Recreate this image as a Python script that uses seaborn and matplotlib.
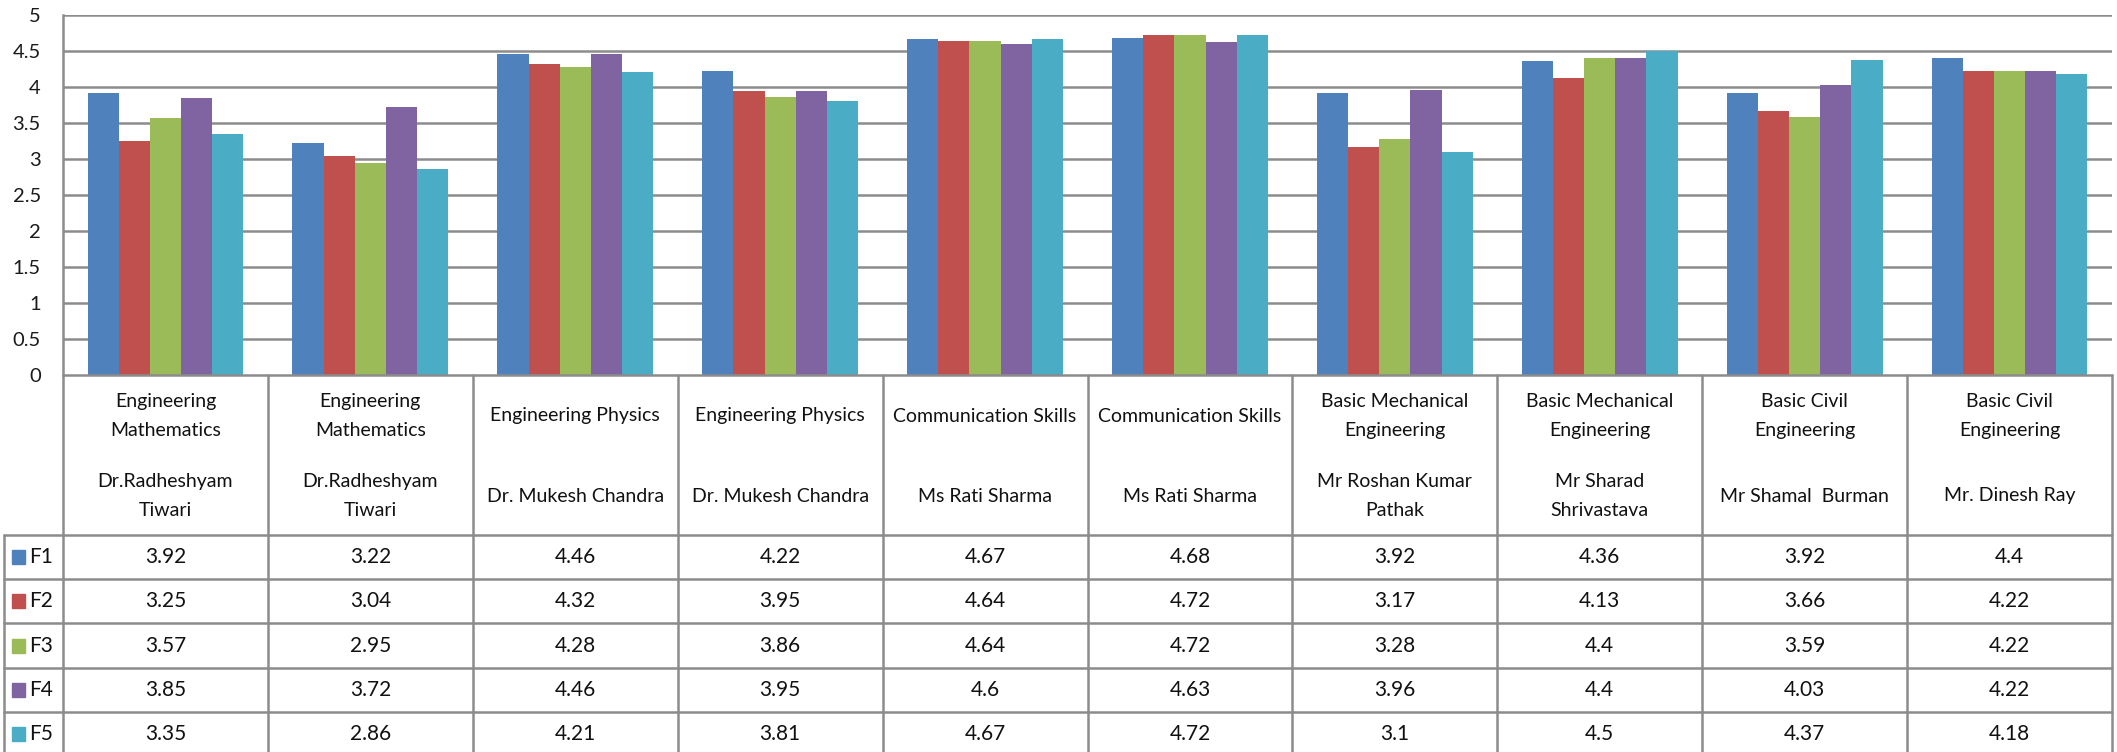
import pandas as pd
import seaborn as sns
import matplotlib.pyplot as plt
import matplotlib.transforms as mtransforms

# column headers of the data table (subject, teacher)
subjects = ["Engineering\nMathematics", "Engineering\nMathematics",
            "Engineering Physics", "Engineering Physics",
            "Communication Skills", "Communication Skills",
            "Basic Mechanical\nEngineering", "Basic Mechanical\nEngineering",
            "Basic Civil\nEngineering", "Basic Civil\nEngineering"]
teachers = ["Dr.Radheshyam\nTiwari", "Dr.Radheshyam\nTiwari",
            "Dr. Mukesh Chandra", "Dr. Mukesh Chandra",
            "Ms Rati Sharma", "Ms Rati Sharma",
            "Mr Roshan Kumar\nPathak", "Mr Sharad\nShrivastava",
            "Mr Shamal  Burman", "Mr. Dinesh Ray"]

series = ["F1", "F2", "F3", "F4", "F5"]
f1 = [3.92, 3.22, 4.46, 4.22, 4.67, 4.68, 3.92, 4.36, 3.92, 4.4]
f2 = [3.25, 3.04, 4.32, 3.95, 4.64, 4.72, 3.17, 4.13, 3.66, 4.22]
f3 = [3.57, 2.95, 4.28, 3.86, 4.64, 4.72, 3.28, 4.4, 3.59, 4.22]
f4 = [3.85, 3.72, 4.46, 3.95, 4.6, 4.63, 3.96, 4.4, 4.03, 4.22]
f5 = [3.35, 2.86, 4.21, 3.81, 4.67, 4.72, 3.1, 4.5, 4.37, 4.18]

colors = ["#4F81BD", "#C0504D", "#9BBB59", "#8064A2", "#4BACC6"]

values = [f1, f2, f3, f4, f5]
col_ids = [f"c{i}" for i in range(len(subjects))]
rows = []
for name, vals in zip(series, values):
    for cid, v in zip(col_ids, vals):
        rows.append({"col": cid, "series": name, "score": v})
df = pd.DataFrame(rows)

sns.set_style("white")
plt.rcParams["font.family"] = ["Lato", "DejaVu Sans"]

W, H = 2117, 752
top_px, bot_px = 15, 375          # plot area (value 5 .. value 0)
left_px, right_px = 63, 2112
fig = plt.figure(figsize=(W / 100, H / 100), dpi=100)
ax = fig.add_axes([left_px / W, (H - bot_px) / H, (right_px - left_px) / W,
                   (bot_px - top_px) / H])

sns.barplot(data=df, x="col", y="score", hue="series", order=col_ids,
            hue_order=series, palette=colors, width=0.76, saturation=1,
            linewidth=0, ax=ax, legend=False, zorder=3)

grid_c = "#8c8c8c"
ax.set_ylim(0, 5)
ax.set_xlim(-0.5, len(col_ids) - 0.5)
ticks = [i * 0.5 for i in range(11)]
ax.set_yticks(ticks)
ax.set_yticklabels([f"{t:g}" for t in ticks], fontsize=14.5, color="#1a1a1a")
ax.tick_params(axis="y", length=0, pad=16)
ax.set_xticks([])
ax.set_xlabel("")
ax.set_ylabel("")
for t in ticks[1:]:
    ax.axhline(t, color=grid_c, lw=1.8, zorder=1)
for side in ["right", "bottom", "top"]:
    ax.spines[side].set_visible(False)
ax.spines["left"].set_color(grid_c)
ax.spines["left"].set_linewidth(1.8)

# data table below the plot (pixel positions converted to axes fraction)
tr = mtransforms.blended_transform_factory(ax.transData, ax.transAxes)
px = 1 / (bot_px - top_px)


def ypos(p):
    return -(p - bot_px) * px


head_bot = 535
row_h = 44.2
n = len(col_ids)
col_w = (right_px - left_px) / n
left_x = -0.5 - (left_px - 4) / col_w
lc = "#8c8c8c"
lw = 1.8

ax.plot([-0.5, n - 0.5], [0, 0], transform=tr, color=lc, lw=lw, clip_on=False, zorder=4)
for r in range(5):
    y = ypos(head_bot + r * row_h)
    ax.plot([left_x, n - 0.5], [y, y], transform=tr, color=lc, lw=lw, clip_on=False)
bottom = ypos(H + 5)
for i in range(n + 1):
    ax.plot([i - 0.5, i - 0.5], [0, bottom], transform=tr, color=lc, lw=lw, clip_on=False)
ax.plot([left_x, left_x], [ypos(head_bot), bottom], transform=tr, color=lc, lw=lw,
        clip_on=False)

txt_c = "#111111"
for i in range(n):
    ax.text(i, ypos(416), subjects[i], transform=tr, ha="center", va="center",
            fontsize=14, color=txt_c, linespacing=1.9)
    ax.text(i, ypos(496), teachers[i], transform=tr, ha="center", va="center",
            fontsize=14, color=txt_c, linespacing=1.9)
    for r, vals in enumerate(values):
        y = ypos(head_bot + (r + 0.5) * row_h)
        ax.text(i, y, f"{vals[i]:g}", transform=tr, ha="center", va="center",
                fontsize=15, color=txt_c)

# legend keys in the first column
for r, (name, c) in enumerate(zip(series, colors)):
    yc = head_bot + (r + 0.5) * row_h
    fig.patches.append(plt.Rectangle((12 / W, (H - yc - 7) / H), 13 / W, 14 / H,
                                     transform=fig.transFigure, color=c, zorder=5))
    ax.text(left_x + (29 - 4) / col_w, ypos(yc), name, transform=tr, ha="left",
            va="center", fontsize=15, color=txt_c)

fig.savefig("out.png", dpi=100)
plt.close(fig)
